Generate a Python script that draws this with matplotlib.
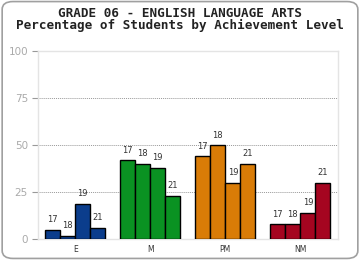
import matplotlib
matplotlib.use("Agg")
import matplotlib.pyplot as plt
from matplotlib.patches import FancyBboxPatch
import numpy as np

# achievement levels and years
levels = ["E", "M", "PM", "NM"]
years = ["17", "18", "19", "21"]
colors = ["#0b3d8c", "#0a9222", "#d97c07", "#a50520"]

# percentage of students, one list per level (17, 18, 19, 21)
e_vals = [5, 2, 19, 6]
m_vals = [42, 40, 38, 23]
pm_vals = [44, 50, 30, 40]
nm_vals = [8, 8, 14, 30]
values = [e_vals, m_vals, pm_vals, nm_vals]

yticks = [0, 25, 50, 75, 100]

fig = plt.figure(figsize=(3.6, 2.6), dpi=100)
fig.patch.set_facecolor("white")

# rounded frame around the whole chart
frame = FancyBboxPatch((0.006, 0.006), 0.988, 0.988,
                       boxstyle="round,pad=0,rounding_size=0.03",
                       transform=fig.transFigure, facecolor="none",
                       edgecolor="#a0a0a0", linewidth=1.2)
fig.patches.append(frame)

ax = fig.add_axes([0.1047, 0.0796, 0.834, 0.724])

width = 0.2
offsets = [-0.3, -0.1, 0.1, 0.3]
for i, lvl in enumerate(levels):
    for j, yr in enumerate(years):
        x = i + offsets[j]
        v = values[i][j]
        ax.bar(x, v, width=width, color=colors[i], edgecolor="black",
               linewidth=1.0, zorder=3)
        ax.annotate(yr, (x, v), xytext=(0, 4), textcoords="offset points",
                    ha="center", va="bottom", fontsize=6, color="#333333")

ax.set_xlim(-0.5, 3.5)
ax.set_ylim(0, 100)
ax.set_xticks(range(len(levels)))
ax.set_xticklabels(levels, fontsize=5.5, color="#333333")
ax.tick_params(axis="x", length=0, pad=4)
ax.set_yticks(yticks)
ax.set_yticklabels([str(t) for t in yticks], fontsize=7.5, color="#aaaaaa")
ax.tick_params(axis="y", length=4, color="#999999", width=0.8, pad=3)

for y in [25, 50, 75]:
    ax.axhline(y, color="#999999", linestyle=(0, (1, 1)), linewidth=0.7, zorder=1)
for s in ax.spines.values():
    s.set_color("#e4e4e4")
    s.set_linewidth(1.0)

fig.text(0.5, 0.948, "GRADE 06 - ENGLISH LANGUAGE ARTS", ha="center", va="center",
         fontsize=9.1, fontweight="bold", family="DejaVu Sans Mono", color="#222222")
fig.text(0.5, 0.903, "Percentage of Students by Achievement Level", ha="center",
         va="center", fontsize=9.1, fontweight="bold", family="DejaVu Sans Mono",
         color="#222222")

fig.savefig("out.png", dpi=100)
